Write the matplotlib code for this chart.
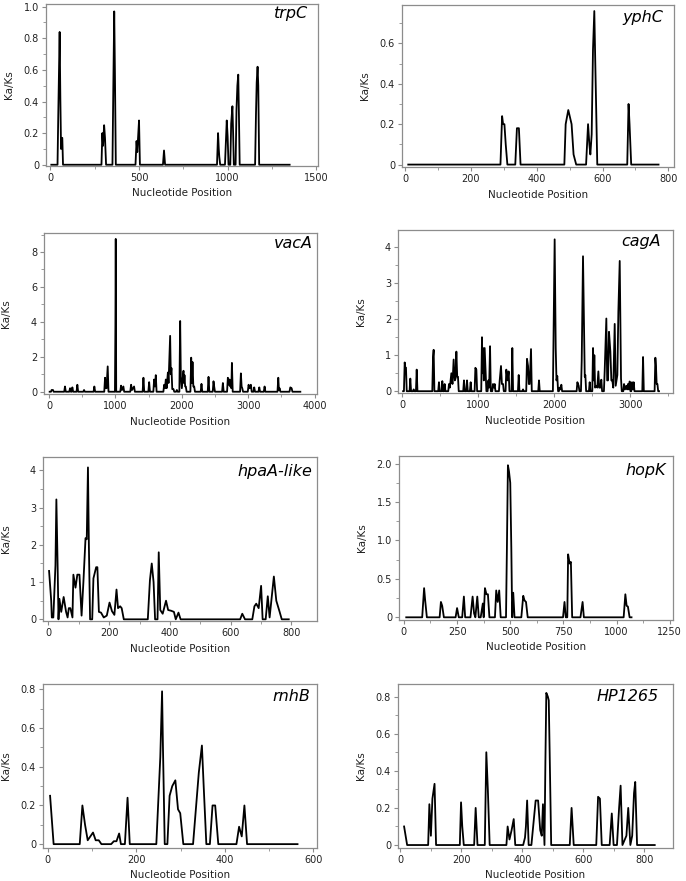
import matplotlib
matplotlib.use("Agg")
import matplotlib.pyplot as plt
from matplotlib.ticker import MultipleLocator, FuncFormatter

# ---- data (position, Ka/Ks) ----
trpC_x = [5, 40, 44, 48, 52, 56, 60, 63, 67, 71,
          288, 293, 297, 303, 308, 314,
          350, 355, 360, 364, 369,
          480, 486, 490, 496, 500, 505,
          635, 641, 647,
          940, 946, 950, 953, 958,
          985, 990, 995, 1000, 1005, 1015, 1020, 1027, 1031, 1035,
          1045, 1050, 1055, 1060, 1064, 1068,
          1155, 1160, 1164, 1169, 1173, 1178, 1350]
trpC_y = [0, 0, 0.3, 0.57, 0.84, 0.42, 0.1, 0.17, 0.17, 0,
          0, 0.2, 0.12, 0.25, 0.17, 0,
          0, 0.5, 0.97, 0.58, 0,
          0, 0.15, 0.08, 0.2, 0.28, 0,
          0, 0.09, 0,
          0, 0.2, 0.1, 0.05, 0,
          0, 0.14, 0.28, 0.18, 0, 0, 0.26, 0.37, 0.2, 0,
          0, 0.35, 0.5, 0.57, 0.3, 0,
          0, 0.32, 0.52, 0.62, 0.5, 0, 0]

yphC_x = [10, 290, 295, 298, 302, 306, 311,
          335, 340, 346, 351,
          484, 488, 496, 506, 512, 520,
          550, 556, 560, 563, 567, 571, 575, 578, 581, 584,
          675, 679, 682, 687, 770]
yphC_y = [0, 0, 0.24, 0.2, 0.2, 0.1, 0,
          0, 0.18, 0.18, 0,
          0, 0.2, 0.27, 0.2, 0.05, 0,
          0, 0.2, 0.1, 0.05, 0.15, 0.57, 0.76, 0.5, 0.25, 0,
          0, 0.3, 0.2, 0, 0]

vacA_x = [10, 30, 40, 60, 70,
          229, 241, 253, 305, 317, 329, 340, 352, 364, 415, 427, 439,
          516, 528, 540, 671, 683, 695,
          832, 844, 852, 859, 866, 884, 896,
          993, 1000, 1005, 1012,
          1073, 1085, 1100, 1120, 1132,
          1224, 1236, 1250, 1281, 1293,
          1410, 1422, 1434, 1496, 1508, 1520,
          1571, 1583, 1596, 1608, 1620,
          1722, 1734, 1746, 1759, 1771, 1790, 1800, 1824, 1834, 1844, 1856, 1874, 1886,
          1913, 1925, 1937,
          1963, 1975, 1985, 2000, 2025, 2033, 2040, 2050, 2060, 2072,
          2129, 2141, 2151, 2161, 2173, 2186, 2198,
          2284, 2296, 2308, 2390, 2402, 2414,
          2465, 2477, 2487, 2499, 2606, 2618, 2630,
          2681, 2693, 2705, 2719, 2730, 2739, 2746, 2754, 2766,
          2877, 2889, 2900, 2910, 2922,
          2993, 3005, 3020, 3040, 3052,
          3078, 3090, 3102, 3154, 3166, 3178, 3234, 3246, 3258,
          3440, 3452, 3462, 3472, 3484,
          3621, 3633, 3653, 3665, 3784]
vacA_y = [0, 0, 0.1, 0.1, 0,
          0, 0.3, 0, 0, 0.2, 0, 0, 0.25, 0, 0, 0.4, 0,
          0, 0.1, 0, 0, 0.3, 0,
          0, 0.8, 0.2, 0.5, 0.2, 1.45, 0,
          0, 3.8, 8.75, 0,
          0, 0.35, 0.1, 0.3, 0,
          0, 0.4, 0.1, 0.3, 0,
          0, 0.8, 0, 0, 0.55, 0,
          0, 0.7, 0.3, 0.95, 0,
          0, 0.4, 0.2, 0.7, 0.2, 1.1, 0.5, 3.2, 1.0, 1.35, 0.15, 0.15, 0,
          0, 0.1, 0,
          0, 4.05, 0.9, 0.2, 1.2, 0.5, 0.95, 0.3, 0.3, 0,
          0, 1.95, 0.5, 1.7, 0.3, 0.3, 0,
          0, 0.45, 0, 0, 0.85, 0,
          0, 0.6, 0.3, 0, 0, 0.5, 0,
          0, 0.8, 0.4, 0.7, 0.3, 0.6, 0.2, 1.65, 0,
          0, 1.05, 0.3, 0.2, 0,
          0, 0.4, 0.2, 0.4, 0,
          0, 0.25, 0, 0, 0.25, 0, 0, 0.3, 0,
          0, 0.8, 0.1, 0.2, 0,
          0, 0.25, 0.2, 0, 0]

cagA_x = [10, 21, 31, 40, 48, 58, 95, 105, 115, 139, 149, 159, 179, 189, 199,
          394, 404, 412, 422, 472, 482, 492, 516, 526, 536, 547, 557, 567,
          604, 614, 625, 632, 645, 660, 675, 690, 700, 711, 722, 732, 742,
          801, 811, 821, 841, 851, 861, 889, 899, 909,
          951, 961, 974, 984,
          1038, 1048, 1055, 1061, 1072, 1083, 1096, 1106,
          1122, 1132, 1142, 1154, 1164, 1183, 1193, 1205, 1215, 1225,
          1271, 1281, 1298, 1310, 1325, 1335, 1358, 1368, 1385, 1399, 1409,
          1437, 1447, 1457, 1521, 1531, 1541, 1578, 1588, 1598,
          1630, 1640, 1654, 1664, 1675, 1693, 1703, 1788, 1798, 1808,
          1981, 1991, 2004, 2018, 2028, 2039, 2049, 2060, 2070, 2082, 2092, 2102,
          2293, 2303, 2320, 2330, 2350, 2360, 2377, 2390, 2400, 2408, 2418,
          2455, 2465, 2475,
          2499, 2509, 2518, 2526, 2536, 2553, 2565, 2579, 2590, 2605, 2618, 2628,
          2652, 2662, 2684, 2695, 2706, 2719, 2737, 2750, 2763, 2775, 2794, 2807,
          2829, 2842, 2860, 2877, 2887,
          2907, 2917, 2930, 2947, 2958, 2969, 2980, 2991, 3001,
          3012, 3022, 3034, 3044, 3054, 3157, 3167, 3177,
          3319, 3329, 3337, 3346, 3356, 3366, 3377]
cagA_y = [0, 0, 0.8, 0.65, 0.65, 0, 0, 0.35, 0, 0, 0.05, 0, 0, 0.6, 0,
          0, 0.95, 1.15, 0, 0, 0.25, 0, 0, 0.28, 0, 0, 0.2, 0,
          0, 0.2, 0.1, 0.25, 0.5, 0.2, 0.88, 0.3, 0.35, 1.1, 0.4, 0.4, 0,
          0, 0.3, 0, 0, 0.3, 0, 0, 0.25, 0,
          0, 0.65, 0.6, 0,
          0, 1.5, 0.5, 1.2, 0.3, 1.2, 0.55, 0,
          0, 0.3, 0.1, 1.25, 0, 0, 0.2, 0.1, 0.2, 0,
          0, 0.3, 0.7, 0.2, 0.2, 0, 0, 0.6, 0.3, 0.55, 0,
          0, 1.2, 0, 0, 0.45, 0, 0, 0.05, 0,
          0, 0.9, 0.7, 0.2, 0.2, 1.17, 0, 0, 0.3, 0,
          0, 1.88, 4.22, 1.2, 0.3, 0.42, 0, 0, 0.1, 0.05, 0.18, 0,
          0, 0.25, 0.15, 0, 0, 0.85, 3.75, 1.95, 0.4, 0.45, 0,
          0, 0.25, 0,
          0, 1.2, 0.3, 1.0, 0.1, 0.15, 0.1, 0.55, 0.1, 0.1, 0.32, 0,
          0, 0.55, 2.02, 0.3, 0.3, 1.65, 1.1, 0.3, 0.3, 0.1, 1.87, 0.15,
          0.45, 2.2, 3.62, 0.35, 0,
          0, 0.2, 0.05, 0.15, 0.05, 0.2, 0.05, 0.27, 0,
          0, 0.25, 0.05, 0.25, 0, 0, 0.95, 0,
          0, 0.93, 0.7, 0.2, 0.2, 0, 0]

hpaA_x = [2, 9, 11, 16, 23, 26, 30, 33, 36, 42, 50, 58, 63, 67, 72, 79, 82, 89, 95, 102,
          109, 115, 122, 126, 130, 133, 137, 144, 148, 157, 161, 166, 173, 182, 192,
          201, 209, 217, 224, 229, 236, 241, 248, 327, 334, 340, 346, 351, 359, 363,
          368, 376, 387, 394, 404, 413, 419, 428, 435, 631, 638, 647, 671, 678, 684,
          692, 700, 705, 715, 722, 728, 735, 742, 750, 761, 768, 791]
hpaA_y = [1.3, 0.5, 0.05, 0.05, 1.45, 3.22, 1.5, 0, 0.55, 0.2, 0.6, 0.2, 0.05, 0.3, 0.3,
          0.05, 1.2, 0.85, 1.2, 1.2, 0.1, 1.0, 2.18, 2.15, 4.08, 2.0, 0, 0, 1.1, 1.4,
          1.4, 0.2, 0.18, 0.05, 0.1, 0.45, 0.22, 0.12, 0.8, 0.3, 0.35, 0.3, 0, 0, 1.05,
          1.5, 1.0, 0, 0, 1.8, 0.25, 0.15, 0.5, 0.25, 0.23, 0.2, 0, 0.18, 0, 0, 0.15,
          0, 0, 0.35, 0.42, 0.3, 0.9, 0, 0, 0.62, 0.05, 0.6, 1.15, 0.5, 0.2, 0, 0]

hopK_x = [11, 86, 95, 100, 108, 168, 174, 180, 188, 243, 250, 258, 274, 282, 288,
          313, 323, 330, 336, 345, 352, 361, 371, 375, 381, 388, 395, 402,
          428, 434, 441, 448, 455, 480, 484, 489, 494, 500, 505, 509, 514, 520,
          552, 561, 567, 574, 582, 748, 755, 761, 768, 772, 779, 785, 791,
          830, 840, 846, 1033, 1041, 1047, 1053, 1061, 1070]
hopK_y = [0, 0, 0.38, 0.22, 0, 0, 0.2, 0.15, 0, 0, 0.12, 0, 0, 0.27, 0,
          0, 0.27, 0.05, 0, 0.27, 0, 0, 0.18, 0, 0.38, 0.3, 0.3, 0,
          0, 0.35, 0.2, 0.35, 0, 0, 0.85, 1.98, 1.9, 1.75, 0.9, 0, 0.32, 0,
          0, 0.28, 0.22, 0.2, 0, 0, 0.2, 0, 0, 0.82, 0.7, 0.72, 0,
          0, 0.2, 0, 0, 0.3, 0.15, 0.14, 0, 0]

rnhB_x = [5, 13, 72, 78, 84, 90, 102, 108, 115, 121, 143, 149, 155, 161, 165, 174, 180,
          185, 245, 254, 258, 260, 264, 270, 275, 281, 288, 294, 299, 306, 328, 341,
          348, 352, 358, 366, 372, 378, 385, 426, 432, 438, 444, 450, 564]
rnhB_y = [0.25, 0, 0, 0.2, 0.1, 0.02, 0.06, 0.02, 0.02, 0, 0, 0.015, 0.015, 0.055, 0,
          0, 0.24, 0, 0, 0.45, 0.79, 0.5, 0, 0, 0.25, 0.3, 0.33, 0.18, 0.16, 0, 0,
          0.37, 0.51, 0.3, 0, 0, 0.2, 0.2, 0, 0, 0.09, 0.04, 0.2, 0, 0]

HP1265_x = [12, 22, 91, 95, 100, 105, 112, 117, 195, 199, 203, 208, 242, 247, 253,
            277, 282, 287, 293, 348, 352, 358, 365, 372, 377, 403, 409, 412, 416, 421,
            430, 444, 452, 459, 464, 468, 473, 476, 479, 484, 487, 490, 495,
            556, 562, 569, 643, 649, 655, 661, 687, 694, 700, 711, 718, 723, 729,
            742, 748, 755, 761, 767, 771, 777, 835]
HP1265_y = [0.1, 0, 0, 0.22, 0.05, 0.25, 0.33, 0, 0, 0.23, 0.1, 0, 0, 0.2, 0,
            0, 0.5, 0.3, 0, 0, 0.1, 0.03, 0.08, 0.14, 0, 0, 0.04, 0.1, 0.24, 0,
            0, 0.24, 0.24, 0.08, 0.05, 0.22, 0, 0.45, 0.82, 0.8, 0.78, 0.5, 0,
            0, 0.2, 0, 0, 0.26, 0.25, 0, 0, 0.17, 0, 0, 0.2, 0.32, 0,
            0.05, 0.2, 0, 0.05, 0.28, 0.34, 0, 0]

W, H = 686, 881
fig = plt.figure(figsize=(W / 100, H / 100), dpi=100)

gray = "#8c8c8c"
txt = "#222222"


def panel(box, xs, ys, name, xlim, xmaj, xmin, ylim, ymaj, ymin, yfmt,
          ylab_px, name_off):
    l, r, t, b = box
    ax = fig.add_axes([l / W, 1 - b / H, (r - l) / W, (b - t) / H])
    ax.plot(xs, ys, color="black", lw=1.3)
    ax.set_xlim(xlim)
    ax.set_ylim(ylim)
    ax.xaxis.set_major_locator(MultipleLocator(xmaj))
    ax.xaxis.set_minor_locator(MultipleLocator(xmin))
    ax.yaxis.set_major_locator(MultipleLocator(ymaj))
    ax.yaxis.set_minor_locator(MultipleLocator(ymin))
    ax.yaxis.set_major_formatter(FuncFormatter(
        lambda v, p: "0" if abs(v) < 1e-9 else yfmt % v))
    for s in ax.spines.values():
        s.set_color(gray)
        s.set_linewidth(0.9)
    ax.tick_params(which="both", direction="out", color=gray, labelsize=7,
                   labelcolor=txt, pad=2)
    ax.tick_params(which="major", length=3)
    ax.tick_params(which="minor", length=2)
    ax.set_xlabel("Nucleotide Position", fontsize=7.5, color=txt, labelpad=4)
    ax.set_ylabel("Ka/Ks", fontsize=7.5, color=txt)
    ax.yaxis.set_label_coords((ylab_px - l) / (r - l), 0.5)
    ax.annotate(name, xy=(1, 1), xycoords="axes fraction",
                xytext=(-name_off[0], -name_off[1]), textcoords="offset pixels",
                ha="right", va="top", style="italic", fontsize=11.5)
    return ax


panel((46, 318, 4, 166), trpC_x, trpC_y, "trpC", (-25, 1510), 500, 250,
      (-0.008, 1.017), 0.2, 0.1, "%.1f", 14, (10, 2))
panel((402, 674, 5, 167), yphC_x, yphC_y, "yphC", (-9, 817), 200, 100,
      (-0.012, 0.79), 0.2, 0.1, "%.1f", 370, (11, 5))
panel((44, 317, 233, 394), vacA_x, vacA_y, "vacA", (-75, 4035), 1000, 500,
      (-0.13, 9.09), 2, 1, "%d", 11, (4, 3))
panel((398, 673, 230, 393), cagA_x, cagA_y, "cagA", (-57, 3561), 1000, 500,
      (-0.05, 4.48), 1, 0.5, "%d", 366, (12, 4))
panel((43, 317, 457, 621), hpaA_x, hpaA_y, "hpaA-like", (-18, 884), 200, 100,
      (-0.045, 4.36), 1, 0.5, "%d", 11, (5, 7))
panel((399, 673, 456, 620), hopK_x, hopK_y, "hopK", (-23, 1265), 250, 125,
      (-0.035, 2.1), 0.5, 0.25, "%.1f", 367, (7, 7))
panel((43, 317, 684, 848), rnhB_x, rnhB_y, "rnhB", (-11, 608), 200, 100,
      (-0.02, 0.828), 0.2, 0.1, "%.1f", 11, (7, 5))
panel((398, 673, 684, 848), HP1265_x, HP1265_y, "HP1265", (-8, 895), 200, 100,
      (-0.016, 0.868), 0.2, 0.1, "%.1f", 366, (14, 5))

fig.savefig("out.png", dpi=100)
